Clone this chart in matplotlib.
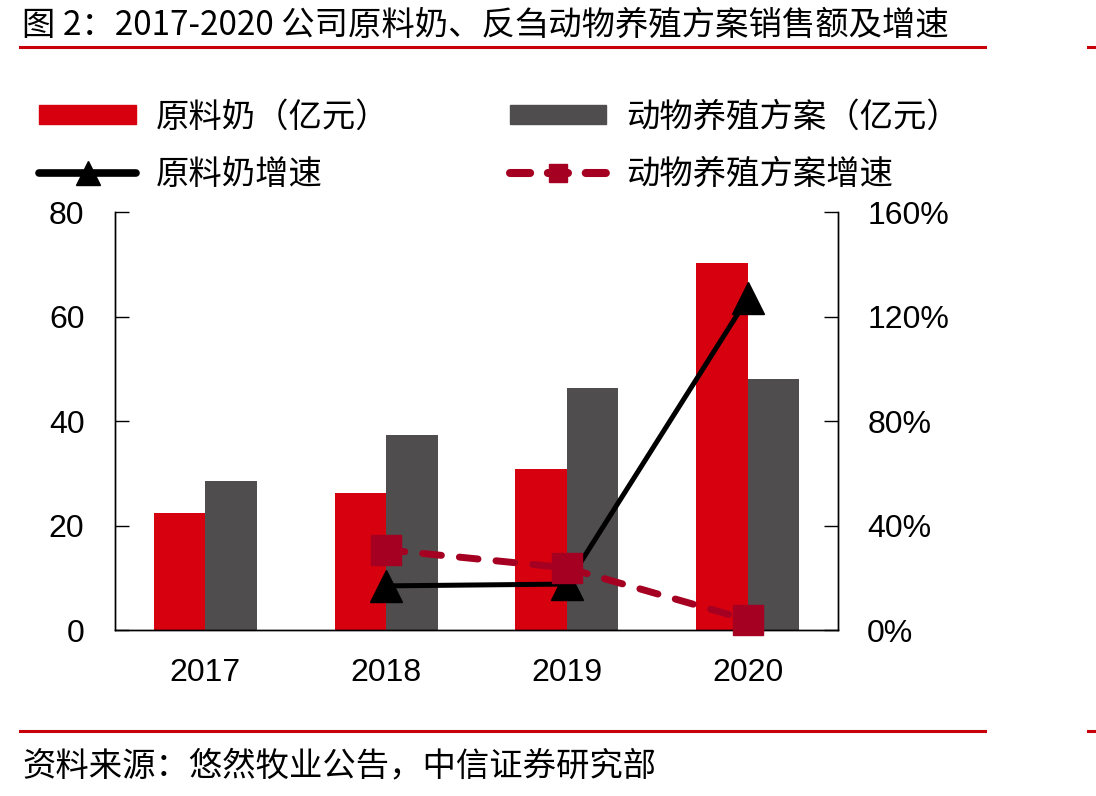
import matplotlib
matplotlib.use("Agg")
import matplotlib.pyplot as plt
import numpy as np
from matplotlib.patches import Patch
from matplotlib.lines import Line2D

plt.rcParams['font.family'] = ['Liberation Sans', 'Noto Sans CJK SC']

years = ['2017', '2018', '2019', '2020']
milk = [22.4, 26.2, 30.8, 70.2]          # 原料奶（亿元）
animal = [28.5, 37.3, 46.3, 48.0]        # 动物养殖方案（亿元）
milk_growth = [None, 0.169, 0.176, 1.27]   # 原料奶增速
animal_growth = [None, 0.307, 0.238, 0.039]  # 动物养殖方案增速

RED = '#D7000F'
GRAY = '#504D4E'
DARKRED = '#A50021'

fig = plt.figure(figsize=(10.96, 7.96), dpi=100)
ax = fig.add_axes([0.1049, 0.2085, 0.6597, 0.5251])
ax2 = ax.twinx()

x = np.arange(len(years))
w = 0.285
ax.bar(x - w / 2, milk, w, color=RED, zorder=2)
ax.bar(x + w / 2, animal, w, color=GRAY, zorder=2)

ax.set_xlim(-0.5, 3.5)
ax.set_ylim(0, 80)
ax.set_yticks([0, 20, 40, 60, 80])
ax.set_xticks(x)
ax.set_xticklabels(years)
ax.tick_params(axis='x', length=0, labelsize=23, pad=20)
ax.tick_params(axis='y', direction='in', length=10, width=1, labelsize=23, pad=22)

mx = [i for i, v in enumerate(milk_growth) if v is not None]
my = [v for v in milk_growth if v is not None]
ax_x = [i for i, v in enumerate(animal_growth) if v is not None]
ay = [v for v in animal_growth if v is not None]

l1, = ax2.plot(mx, my, color='black', lw=3.6, marker='^', markersize=23,
               markerfacecolor='black', markeredgecolor='black',
               solid_capstyle='round', clip_on=False, zorder=3)
l2, = ax2.plot(ax_x, ay, color=DARKRED, lw=5, ls=(0, (2.7, 2.6)), marker='s',
               markersize=21, markerfacecolor=DARKRED, markeredgecolor=DARKRED,
               dash_capstyle='round', clip_on=False, zorder=4)
ax2.set_ylim(0, 1.6)
ax2.set_yticks([0, 0.4, 0.8, 1.2, 1.6])
ax2.set_yticklabels(['0%', '40%', '80%', '120%', '160%'])
ax2.tick_params(axis='y', direction='in', length=10, width=1, labelsize=23, pad=21)

for a in (ax, ax2):
    a.spines['top'].set_visible(False)
    for s in ('left', 'right', 'bottom'):
        a.spines[s].set_linewidth(1)
        a.spines[s].set_color('black')

handles = [Patch(color=RED),
           Line2D([], [], color='black', lw=5.5, marker='^', markersize=17,
                  solid_capstyle='round'),
           Patch(color=GRAY),
           Line2D([], [], color=DARKRED, lw=5.8, ls=(0, (2.5, 2.2)),
                  marker='s', markersize=13, dash_capstyle='round')]
labels = ['原料奶（亿元）', '原料奶增速', '动物养殖方案（亿元）', '动物养殖方案增速']
fig.legend(handles, labels, ncol=2, loc='upper left', bbox_to_anchor=(0.036, 0.872),
           frameon=False, fontsize=24, handlelength=2.9, handleheight=0.48,
           handletextpad=0.6, columnspacing=3.6, labelspacing=0.78,
           borderaxespad=0, borderpad=0)

fig.text(0.02, 0.968, '图 2：2017-2020 公司原料奶、反刍动物养殖方案销售额及增速',
         fontsize=24, family=['Noto Sans CJK SC', 'DejaVu Sans'], va='center', ha='left')
fig.text(0.02, 0.038, '资料来源：悠然牧业公告，中信证券研究部',
         fontsize=24, family=['Noto Sans CJK SC', 'DejaVu Sans'], va='center', ha='left')

for yy in (0.941, 0.0817):
    fig.add_artist(Line2D([0.018, 0.899], [yy, yy], color='#C8000A', lw=2.2,
                          transform=fig.transFigure))
    fig.add_artist(Line2D([0.993, 1.0], [yy, yy], color='#C8000A', lw=2.2,
                          transform=fig.transFigure))

fig.savefig('out.png', dpi=100)
